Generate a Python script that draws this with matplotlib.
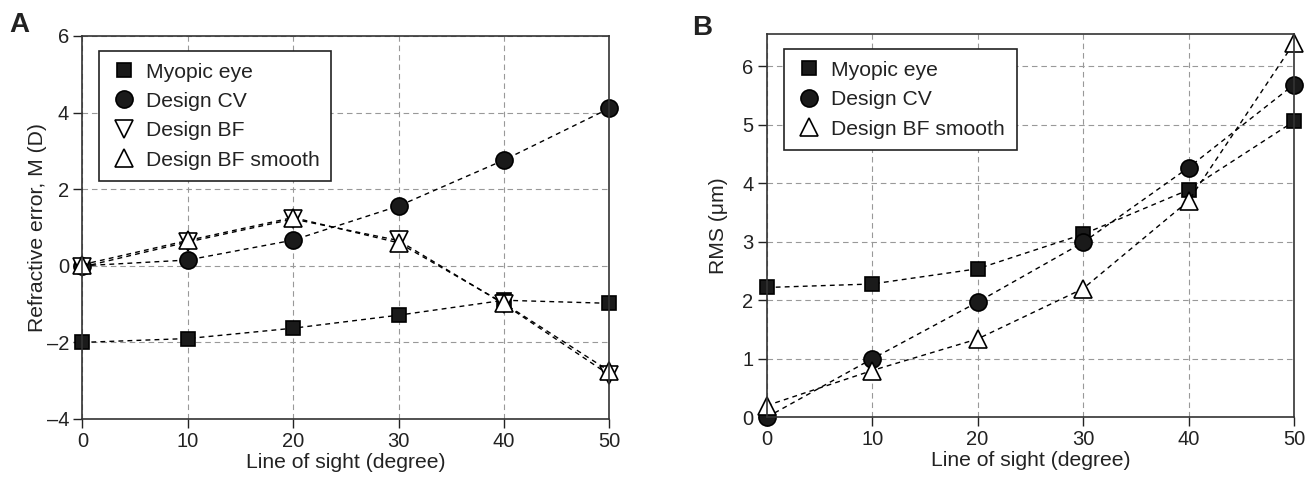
import matplotlib
matplotlib.use("Agg")
import matplotlib.pyplot as plt

plt.rcParams['font.family'] = ['Liberation Sans', 'DejaVu Sans']
FS = 14.5
LFS = 15.2

# Data
angles = [0, 10, 20, 30, 40, 50]
a_myopic = [-2.0, -1.9, -1.63, -1.29, -0.9, -0.98]
a_cv = [0.0, 0.15, 0.67, 1.56, 2.76, 4.11]
a_bf = [-0.03, 0.62, 1.22, 0.66, -1.0, -2.85]
a_bfs = [0.03, 0.66, 1.26, 0.6, -0.98, -2.75]

b_myopic = [2.22, 2.28, 2.54, 3.13, 3.89, 5.06]
b_cv = [0.0, 1.0, 1.97, 2.99, 4.27, 5.69]
b_bfs = [0.2, 0.8, 1.34, 2.2, 3.7, 6.4]

a_yticks = [-4, -2, 0, 2, 4, 6]
b_yticks = [0, 1, 2, 3, 4, 5, 6]
xticks = [0, 10, 20, 30, 40, 50]

fig = plt.figure(figsize=(13.11, 4.79), dpi=100)
axA = fig.add_axes([0.0628, 0.1253, 0.402, 0.7996])
axB = fig.add_axes([0.5848, 0.1288, 0.4022, 0.7996])

INK = '#222222'
ls = dict(color='black', linestyle=(0, (3.5, 3)), linewidth=1.0, markeredgecolor='black',
          markeredgewidth=1.2, clip_on=False)

def style(ax):
    ax.set_xlim(0, 50)
    ax.set_xticks(xticks)
    ax.grid(True, color='#999999', linestyle=(0, (5, 3.5)), linewidth=0.8)
    ax.set_axisbelow(True)
    ax.tick_params(direction='out', length=6.5, width=1, pad=3, labelsize=FS, colors=INK)
    for s in ax.spines.values():
        s.set_linewidth(1.2)
        s.set_color('#333333')
    ax.set_xlabel('Line of sight (degree)', fontsize=LFS, labelpad=1, color=INK)

# Panel A
axA.plot(angles, a_myopic, marker='s', markersize=10, markerfacecolor='#1a1a1a', label='Myopic eye', **ls)
axA.plot(angles, a_cv, marker='o', markersize=12.3, markerfacecolor='#1a1a1a', label='Design CV', **ls)
axA.plot(angles, a_bf, marker='v', markersize=13.5, markerfacecolor='white', label='Design BF', **ls)
axA.plot(angles, a_bfs, marker='^', markersize=13.5, markerfacecolor='white', label='Design BF smooth', **ls)
style(axA)
axA.set_ylim(-4, 6)
axA.set_yticks(a_yticks)
axA.set_yticklabels([str(v).replace('-', '\u2013') for v in a_yticks])
axA.set_ylabel('Refractive error, M (D)', fontsize=LFS, labelpad=0, color=INK)

# Panel B
axB.plot(angles, b_myopic, marker='s', markersize=10, markerfacecolor='#1a1a1a', label='Myopic eye', **ls)
axB.plot(angles, b_cv, marker='o', markersize=12.3, markerfacecolor='#1a1a1a', label='Design CV', **ls)
axB.plot(angles, b_bfs, marker='^', markersize=13.5, markerfacecolor='white', label='Design BF smooth', **ls)
style(axB)
axB.set_ylim(0, 6.55)
axB.set_yticks(b_yticks)
axB.set_ylabel('RMS (\u03bcm)', fontsize=LFS, labelpad=10, color=INK)

for ax, loc in ((axA, (0.032, 0.961)), (axB, (0.0334, 0.961))):
    leg = ax.legend(loc='upper left', bbox_to_anchor=loc, fontsize=LFS, frameon=True, fancybox=False,
                    handlelength=1.27, handletextpad=0.4, borderpad=0.55, labelspacing=0.49,
                    borderaxespad=0, edgecolor='#222222', framealpha=1)
    leg.get_frame().set_linewidth(1.2)
    for t in leg.get_texts():
        t.set_color(INK)
    for h in leg.get_lines():
        h.set_linestyle('none')

fig.text(0.007, 0.933, 'A', fontsize=20, fontweight='bold', color=INK)
fig.text(0.528, 0.927, 'B', fontsize=20, fontweight='bold', color=INK)

fig.savefig('out.png', dpi=100)
